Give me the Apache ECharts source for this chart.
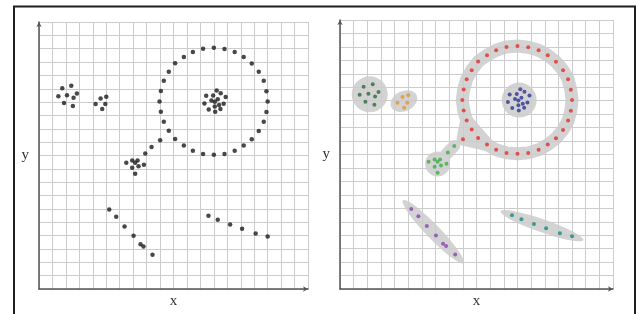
<!DOCTYPE html>
<html>
<head>
<meta charset="utf-8">
<script src="https://cdn.jsdelivr.net/npm/echarts@6/dist/echarts.min.js"></script>
<style>
    html, body { margin: 0; background: #fff; }
    #chart { width: 638px; height: 314px; }
</style>
</head>
<body>
<div id="chart"></div>
<script>
// point clusters, in grid cells (0..20 on both axes)
let darkGreenPts = [[1.73, 15.04], [2.40, 15.23], [1.44, 14.44], [2.08, 14.52], [2.82, 14.64], [2.57, 14.32], [1.86, 13.93], [2.52, 13.70]];
let orangePts = [[4.58, 14.27], [5.00, 14.40], [4.21, 13.85], [4.93, 13.85], [4.70, 13.48]];
let greenPts = [[6.49, 9.46], [6.93, 9.63], [7.33, 9.63], [7.15, 9.46], [6.93, 9.09], [7.40, 9.19], [7.80, 9.31], [7.15, 8.64]];
let greenTail = [[7.90, 10.15], [8.37, 10.64]];
let ringPts = [
    [12.20, 18.00], [13.00, 18.07], [13.79, 17.98], [14.55, 17.75], [15.22, 17.38], [15.82, 16.89], [16.34, 16.27], [16.71, 15.60],
    [16.91, 14.81], [17.00, 14.05], [16.91, 13.26], [16.71, 12.52], [16.34, 11.83], [15.82, 11.21], [15.22, 10.74], [14.55, 10.35],
    [13.79, 10.12], [13.00, 10.05], [12.20, 10.12], [11.44, 10.35], [10.77, 10.74], [10.12, 11.23], [9.65, 11.85], [9.28, 12.52],
    [9.06, 13.28], [8.96, 14.05], [9.06, 14.84], [9.28, 15.60], [9.65, 16.27], [10.12, 16.91], [10.77, 17.38], [11.44, 17.75]
];
let ringBridge = [9.01, 11.14];
let bluePts = [[13.21, 14.86], [13.51, 14.67], [12.43, 14.47], [12.95, 14.49], [13.29, 14.22], [13.88, 14.39], [12.82, 14.12], [12.30, 13.90],
    [13.07, 14.02], [13.39, 13.78], [13.73, 13.87], [12.62, 13.45], [13.07, 13.67], [13.49, 13.48], [13.10, 13.28]];
let purplePts = [[5.22, 5.95], [5.74, 5.41], [6.36, 4.69], [7.03, 3.98], [7.55, 3.36], [7.77, 3.19], [8.44, 2.57]];
let tealPts = [[12.60, 5.48], [13.29, 5.19], [14.21, 4.84], [15.10, 4.52], [16.11, 4.15], [17.00, 3.93]];

let hullColor = '#d3d3d3';
let gridColor = '#cccccc';

let clusters = [
    { pts: darkGreenPts, color: '#2d6a38' },
    { pts: orangePts, color: '#e3952f' },
    { pts: greenPts.concat(greenTail), color: '#3fae45' },
    { pts: ringPts.concat([ringBridge]), color: '#e02f2a' },
    { pts: bluePts, color: '#2e3595' },
    { pts: purplePts, color: '#8b44ad' },
    { pts: tealPts, color: '#178a80' }
];

// gray region drawn round each cluster
let hulls = [
    { pts: darkGreenPts, kind: 'circle', r: 18 },
    { pts: orangePts, kind: 'ellipse', rx: 14, ry: 10, deg: 25 },
    { pts: bluePts, kind: 'circle', r: 17.5 },
    { pts: greenPts, kind: 'blob', r: 12.5, tail: greenTail, width: 12 },
    { pts: ringPts, kind: 'ring', width: 13, bump: [ringPts[23], ringBridge, ringPts[20]] },
    { pts: purplePts, kind: 'stretch', pad: 12, ry: 7 },
    { pts: tealPts, kind: 'stretch', pad: 12, ry: 6.5 }
];

function centroid(pts) {
    let sx = 0, sy = 0;
    pts.forEach(function (p) { sx += p[0]; sy += p[1]; });
    return [sx / pts.length, sy / pts.length];
}

function ellipseEl(c, rx, ry, rot) {
    return {
        type: 'circle', x: c[0], y: c[1], rotation: rot, scaleX: rx, scaleY: ry,
        shape: { cx: 0, cy: 0, r: 1 }, style: { fill: hullColor }
    };
}

function renderHull(params, api) {
    let h = hulls[params.dataIndex];
    let c = api.coord(centroid(h.pts));
    let kids = [];
    if (h.kind === 'circle') {
        kids.push({ type: 'circle', shape: { cx: c[0], cy: c[1], r: h.r }, style: { fill: hullColor } });
    } else if (h.kind === 'ellipse') {
        kids.push(ellipseEl(c, h.rx, h.ry, h.deg * Math.PI / 180));
    } else if (h.kind === 'stretch') {
        let p0 = api.coord(h.pts[0]);
        let p1 = api.coord(h.pts[h.pts.length - 1]);
        let dx = p1[0] - p0[0], dy = p1[1] - p0[1];
        let mid = [(p0[0] + p1[0]) / 2, (p0[1] + p1[1]) / 2];
        kids.push(ellipseEl(mid, Math.sqrt(dx * dx + dy * dy) / 2 + h.pad, h.ry, -Math.atan2(dy, dx)));
    } else if (h.kind === 'blob') {
        kids.push({ type: 'circle', shape: { cx: c[0], cy: c[1], r: h.r }, style: { fill: hullColor } });
        let line = [c].concat(h.tail.map(function (p) { return api.coord(p); }));
        kids.push({
            type: 'polyline', shape: { points: line },
            style: { fill: null, stroke: hullColor, lineWidth: h.width, lineCap: 'round', lineJoin: 'round' }
        });
    } else if (h.kind === 'ring') {
        kids.push({
            type: 'polygon', shape: { points: h.pts.map(function (p) { return api.coord(p); }) },
            style: { fill: null, stroke: hullColor, lineWidth: h.width, lineJoin: 'round' }
        });
        kids.push({
            type: 'polygon', shape: { points: h.bump.map(function (p) { return api.coord(p); }) },
            style: { fill: hullColor, stroke: hullColor, lineWidth: h.width, lineJoin: 'round' }
        });
    }
    return { type: 'group', children: kids };
}

function makeAxis(kind, idx) {
    return {
        type: 'value', gridIndex: idx, min: 0, max: 20, interval: 1, z: 3,
        name: kind, nameLocation: 'middle', nameRotate: 0,
        nameGap: kind === 'x' ? 5 : 10,
        nameTextStyle: { fontFamily: 'Liberation Serif', fontSize: 15, color: '#333' },
        axisLine: { show: true, symbol: ['none', 'arrow'], symbolSize: [4, 5], lineStyle: { color: '#555', width: 1.5 } },
        axisTick: { show: false },
        axisLabel: { show: false },
        splitLine: { show: true, lineStyle: { color: gridColor, width: 1 } }
    };
}

let chart = echarts.init(document.getElementById('chart'));
let allPts = [];
clusters.forEach(function (cl) { allPts = allPts.concat(cl.pts); });

let series = [
    {
        type: 'scatter', xAxisIndex: 0, yAxisIndex: 0, z: 5, silent: true,
        symbolSize: 4.5, itemStyle: { color: '#1a1a1a' }, data: allPts
    },
    {
        type: 'custom', xAxisIndex: 1, yAxisIndex: 1, z: 1, silent: true,
        renderItem: renderHull,
        encode: { x: 0, y: 1 },
        data: hulls.map(function (h) { return centroid(h.pts); })
    }
];
clusters.forEach(function (cl) {
    series.push({
        type: 'scatter', xAxisIndex: 1, yAxisIndex: 1, z: 5, silent: true,
        symbolSize: 4, itemStyle: { color: cl.color }, data: cl.pts
    });
});

chart.setOption({
    animation: false,
    backgroundColor: '#fff',
    graphic: [{
        type: 'rect', z: 10, silent: true,
        shape: { x: 14, y: 6.5, width: 621, height: 340 },
        style: { fill: null, stroke: '#1e1e1e', lineWidth: 2 }
    }],
    grid: [
        { left: 39, top: 22, width: 269, height: 270 },
        { left: 340, top: 20, width: 273, height: 273 }
    ],
    xAxis: [makeAxis('x', 0), makeAxis('x', 1)],
    yAxis: [makeAxis('y', 0), makeAxis('y', 1)],
    series: series
});
</script>
</body>
</html>
